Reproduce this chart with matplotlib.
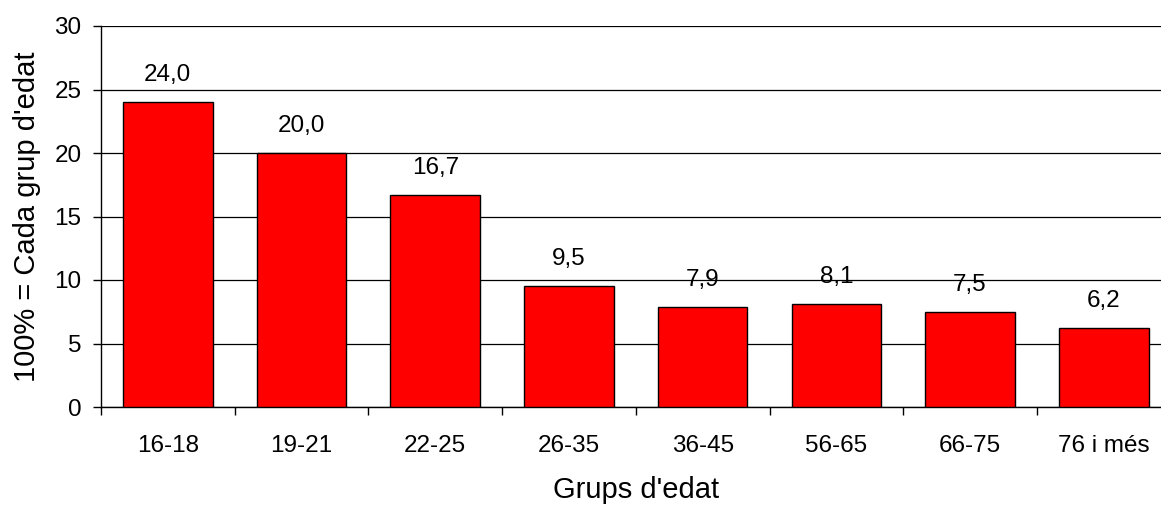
import numpy as np
import matplotlib.pyplot as plt

plt.rcParams['font.family'] = ['Liberation Sans', 'DejaVu Sans']

# Age groups and percentages
groups = ["16-18", "19-21", "22-25", "26-35", "36-45", "56-65", "66-75", "76 i més"]
values = [24.0, 20.0, 16.7, 9.5, 7.9, 8.1, 7.5, 6.2]
y_ticks = [0, 5, 10, 15, 20, 25, 30]

fig = plt.figure(figsize=(11.61, 5.07), dpi=100)
# axes slightly wider than figure, as in the original (right edge is clipped)
ax = fig.add_axes([101/1161, 100/507, 1069.6/1161, 381/507])

x = np.arange(len(groups))
ax.bar(x, values, width=0.67, color='#FF0000', edgecolor='black', linewidth=1.0, zorder=3)

for xi, v in zip(x, values):
    ax.annotate(f"{v:.1f}".replace('.', ','), (xi, v), xytext=(0, 19.5),
                textcoords='offset points', ha='center', va='center', fontsize=17.5)

ax.set_xlim(-0.5, len(groups) - 0.5)
ax.set_ylim(0, 30)
ax.set_yticks(y_ticks)
ax.yaxis.grid(True, color='black', linewidth=0.9, zorder=0)
ax.set_axisbelow(True)

ax.set_xticks(x)
ax.set_xticklabels(groups)
ax.set_xticks(np.arange(len(groups) + 1) - 0.5, minor=True)
ax.tick_params(axis='x', which='major', length=0, pad=20, labelsize=17.5)
ax.tick_params(axis='x', which='minor', length=6, width=1, direction='out')
ax.tick_params(axis='y', length=6, width=1, pad=8, labelsize=17.5)

for s in ['top', 'right']:
    ax.spines[s].set_visible(False)
ax.spines['left'].set_linewidth(1)
ax.spines['bottom'].set_linewidth(1)

ax.set_xlabel("Grups d'edat", fontsize=21, labelpad=14)
ax.set_ylabel("100% = Cada grup d'edat", fontsize=21, labelpad=10)

fig.savefig("out.png", dpi=100)
